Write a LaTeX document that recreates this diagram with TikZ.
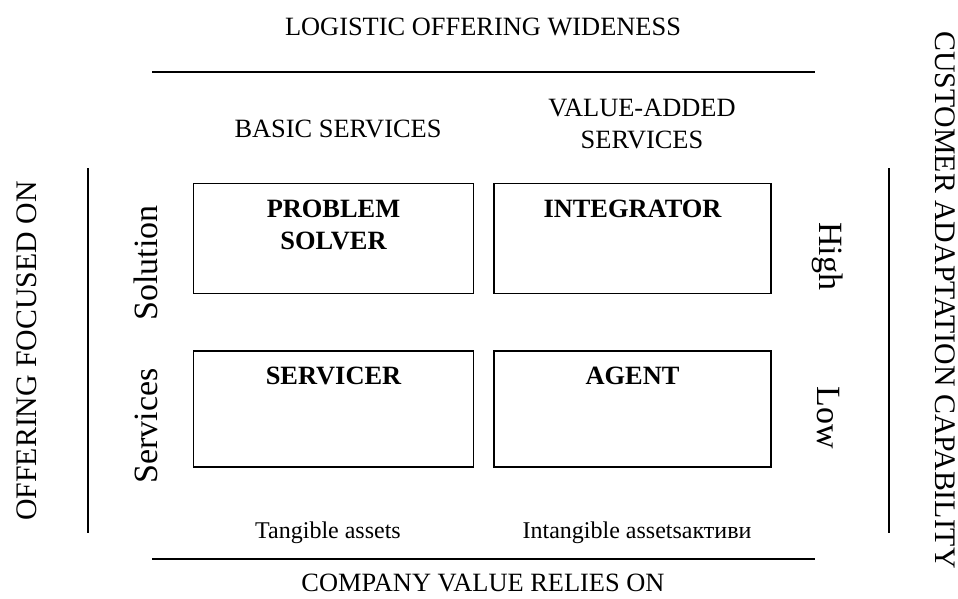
\documentclass[tikz,border=0pt]{standalone}
\usepackage{fontspec}
\setmainfont{Liberation Serif}

\tikzset{
  axis/.style={font=\fontsize{13.2}{16}\selectfont, inner sep=0pt},
  sideaxis/.style={font=\fontsize{14.9}{18}\selectfont, inner sep=0pt},
  level/.style={font=\fontsize{17}{20}\selectfont, inner sep=0pt},
  asset/.style={font=\fontsize{12}{14}\selectfont, inner sep=0pt},
  rolebox/.style={draw, line width=0.9pt, minimum width=140pt, minimum height=55pt, inner sep=0pt},
  roletext/.style={font=\fontsize{13.2}{16}\selectfont\bfseries, align=center, inner sep=0pt, anchor=north, yshift=-8.5pt}
}

\begin{document}
\begin{tikzpicture}[x=0.5pt,y=-0.5pt]
    \path[use as bounding box] (0,0) rectangle (958,599);
    % Top axis.
    \node[axis] (wide) at (483,27) {LOGISTIC OFFERING WIDENESS};
    \draw[line width=0.8pt] (152,72) -- (815,72);
    \node[axis] (basic) at (338,129) {BASIC SERVICES};
    \node[axis, align=center] (added) at (642,124) {VALUE-ADDED\\SERVICES};
    % Quadrants.
    \node[rolebox] (solver) at (333.5,238.5) {};
    \node[rolebox, minimum width=138.5pt] (integr) at (632.5,238.5) {};
    \node[rolebox, minimum height=58pt] (servicer) at (333.5,409) {};
    \node[rolebox, minimum width=138.5pt, minimum height=58pt] (agent) at (632.5,409) {};
    \node[roletext] (solvertxt) at (solver.north) {PROBLEM\\SOLVER};
    \node[roletext] (integrtxt) at (integr.north) {INTEGRATOR};
    \node[roletext] (servicertxt) at (servicer.north) {SERVICER};
    \node[roletext] (agenttxt) at (agent.north) {AGENT};
    % Left axis.
    \node[sideaxis, rotate=90] (focus) at (27,351) {OFFERING FOCUSED ON};
    \draw[line width=0.8pt] (88,168) -- (88,533);
    \node[level, rotate=90] (solution) at (146,263) {Solution};
    \node[level, rotate=90] (services) at (146,426) {Services};
    % Right axis.
    \node[sideaxis, rotate=-90] (adapt) at (945,300) {CUSTOMER ADAPTATION CAPABILITY};
    \draw[line width=0.8pt] (889,168) -- (889,533);
    \node[level, rotate=-90] (high) at (828,256) {High};
    \node[level, rotate=-90] (low) at (828,418) {Low};
    % Bottom axis.
    \node[asset] (tangible) at (328,533) {Tangible assets};
    \node[asset] (intangible) at (637,533) {Intangible assetsактиви};
    \draw[line width=0.8pt] (152,559) -- (815,559);
    \node[axis] (relies) at (483,583) {COMPANY VALUE RELIES ON};
\end{tikzpicture}
\end{document}
